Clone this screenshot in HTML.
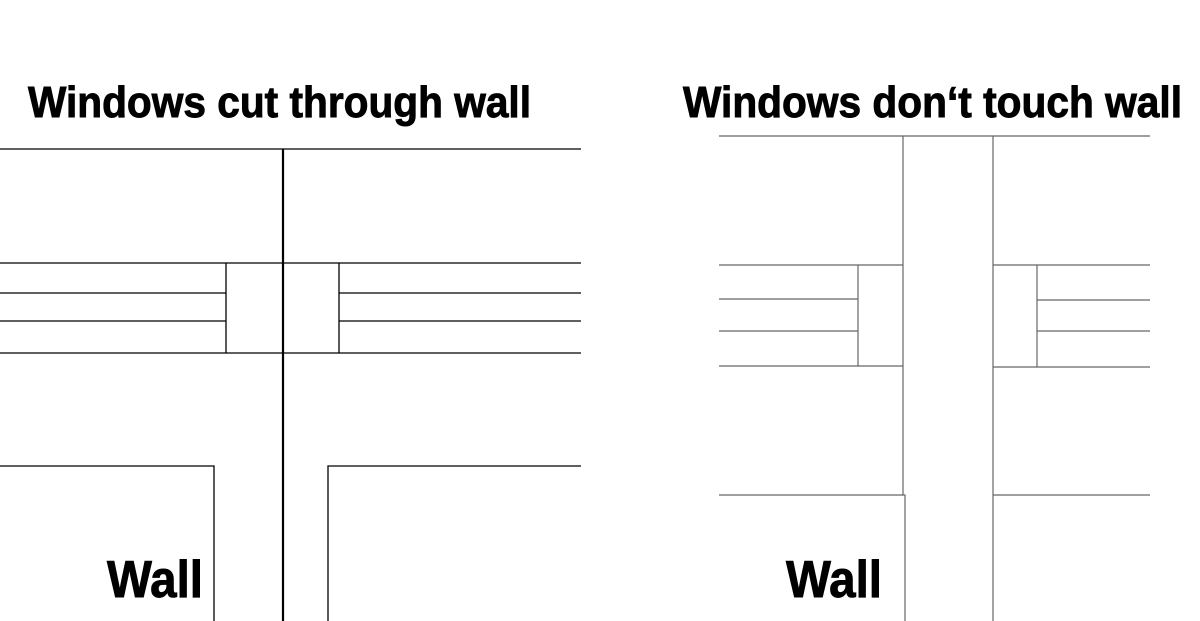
<!DOCTYPE html>
<html><head><meta charset="utf-8"><style>html,body{margin:0;padding:0;background:#fff;}svg{display:block}</style></head>
<body>
<svg width="1200" height="621" viewBox="0 0 1200 621" xmlns="http://www.w3.org/2000/svg">
<rect width="1200" height="621" fill="#fff"/>
<g font-family="Liberation Sans, sans-serif" font-weight="bold" fill="#000" stroke="#000" stroke-width="0.9">
<text x="28" y="117" font-size="44" textLength="503" lengthAdjust="spacingAndGlyphs">Windows cut through wall</text>
<text x="683" y="117" font-size="44" textLength="499" lengthAdjust="spacingAndGlyphs">Windows don‘t touch wall</text>
<text x="107" y="597" font-size="52" textLength="96" lengthAdjust="spacingAndGlyphs">Wall</text>
<text x="786" y="597" font-size="52" textLength="96" lengthAdjust="spacingAndGlyphs">Wall</text>
</g>
<g stroke="#000" stroke-width="1.3" fill="none">
<line x1="0" y1="149" x2="581" y2="149"/>
<line x1="0" y1="263" x2="581" y2="263"/>
<line x1="0" y1="353" x2="581" y2="353"/>
<line x1="0" y1="293" x2="226" y2="293"/>
<line x1="0" y1="321" x2="226" y2="321"/>
<line x1="339" y1="293" x2="581" y2="293"/>
<line x1="339" y1="321" x2="581" y2="321"/>
<line x1="226" y1="263" x2="226" y2="353"/>
<line x1="339" y1="263" x2="339" y2="353"/>
<polyline points="0,466 214,466 214,621"/>
<polyline points="328,621 328,466 581,466"/>
<line x1="283" y1="149" x2="283" y2="621" stroke-width="2.2"/>
</g>
<g stroke="#666" stroke-width="1.2" fill="none">
<line x1="719" y1="136" x2="1150" y2="136"/>
<polyline points="903,136 903,495 905,495 905,621"/>
<line x1="993" y1="136" x2="993" y2="621"/>
<line x1="719" y1="265" x2="903" y2="265"/>
<line x1="719" y1="366" x2="903" y2="366"/>
<line x1="719" y1="299" x2="858" y2="299"/>
<line x1="719" y1="331" x2="858" y2="331"/>
<line x1="858" y1="265" x2="858" y2="366"/>
<line x1="993" y1="265" x2="1150" y2="265"/>
<line x1="993" y1="367" x2="1150" y2="367"/>
<line x1="1037" y1="300" x2="1150" y2="300"/>
<line x1="1037" y1="331" x2="1150" y2="331"/>
<line x1="1037" y1="265" x2="1037" y2="367"/>
<line x1="719" y1="495" x2="903" y2="495"/>
<line x1="993" y1="495" x2="1150" y2="495"/>
</g>
</svg>
</body></html>
